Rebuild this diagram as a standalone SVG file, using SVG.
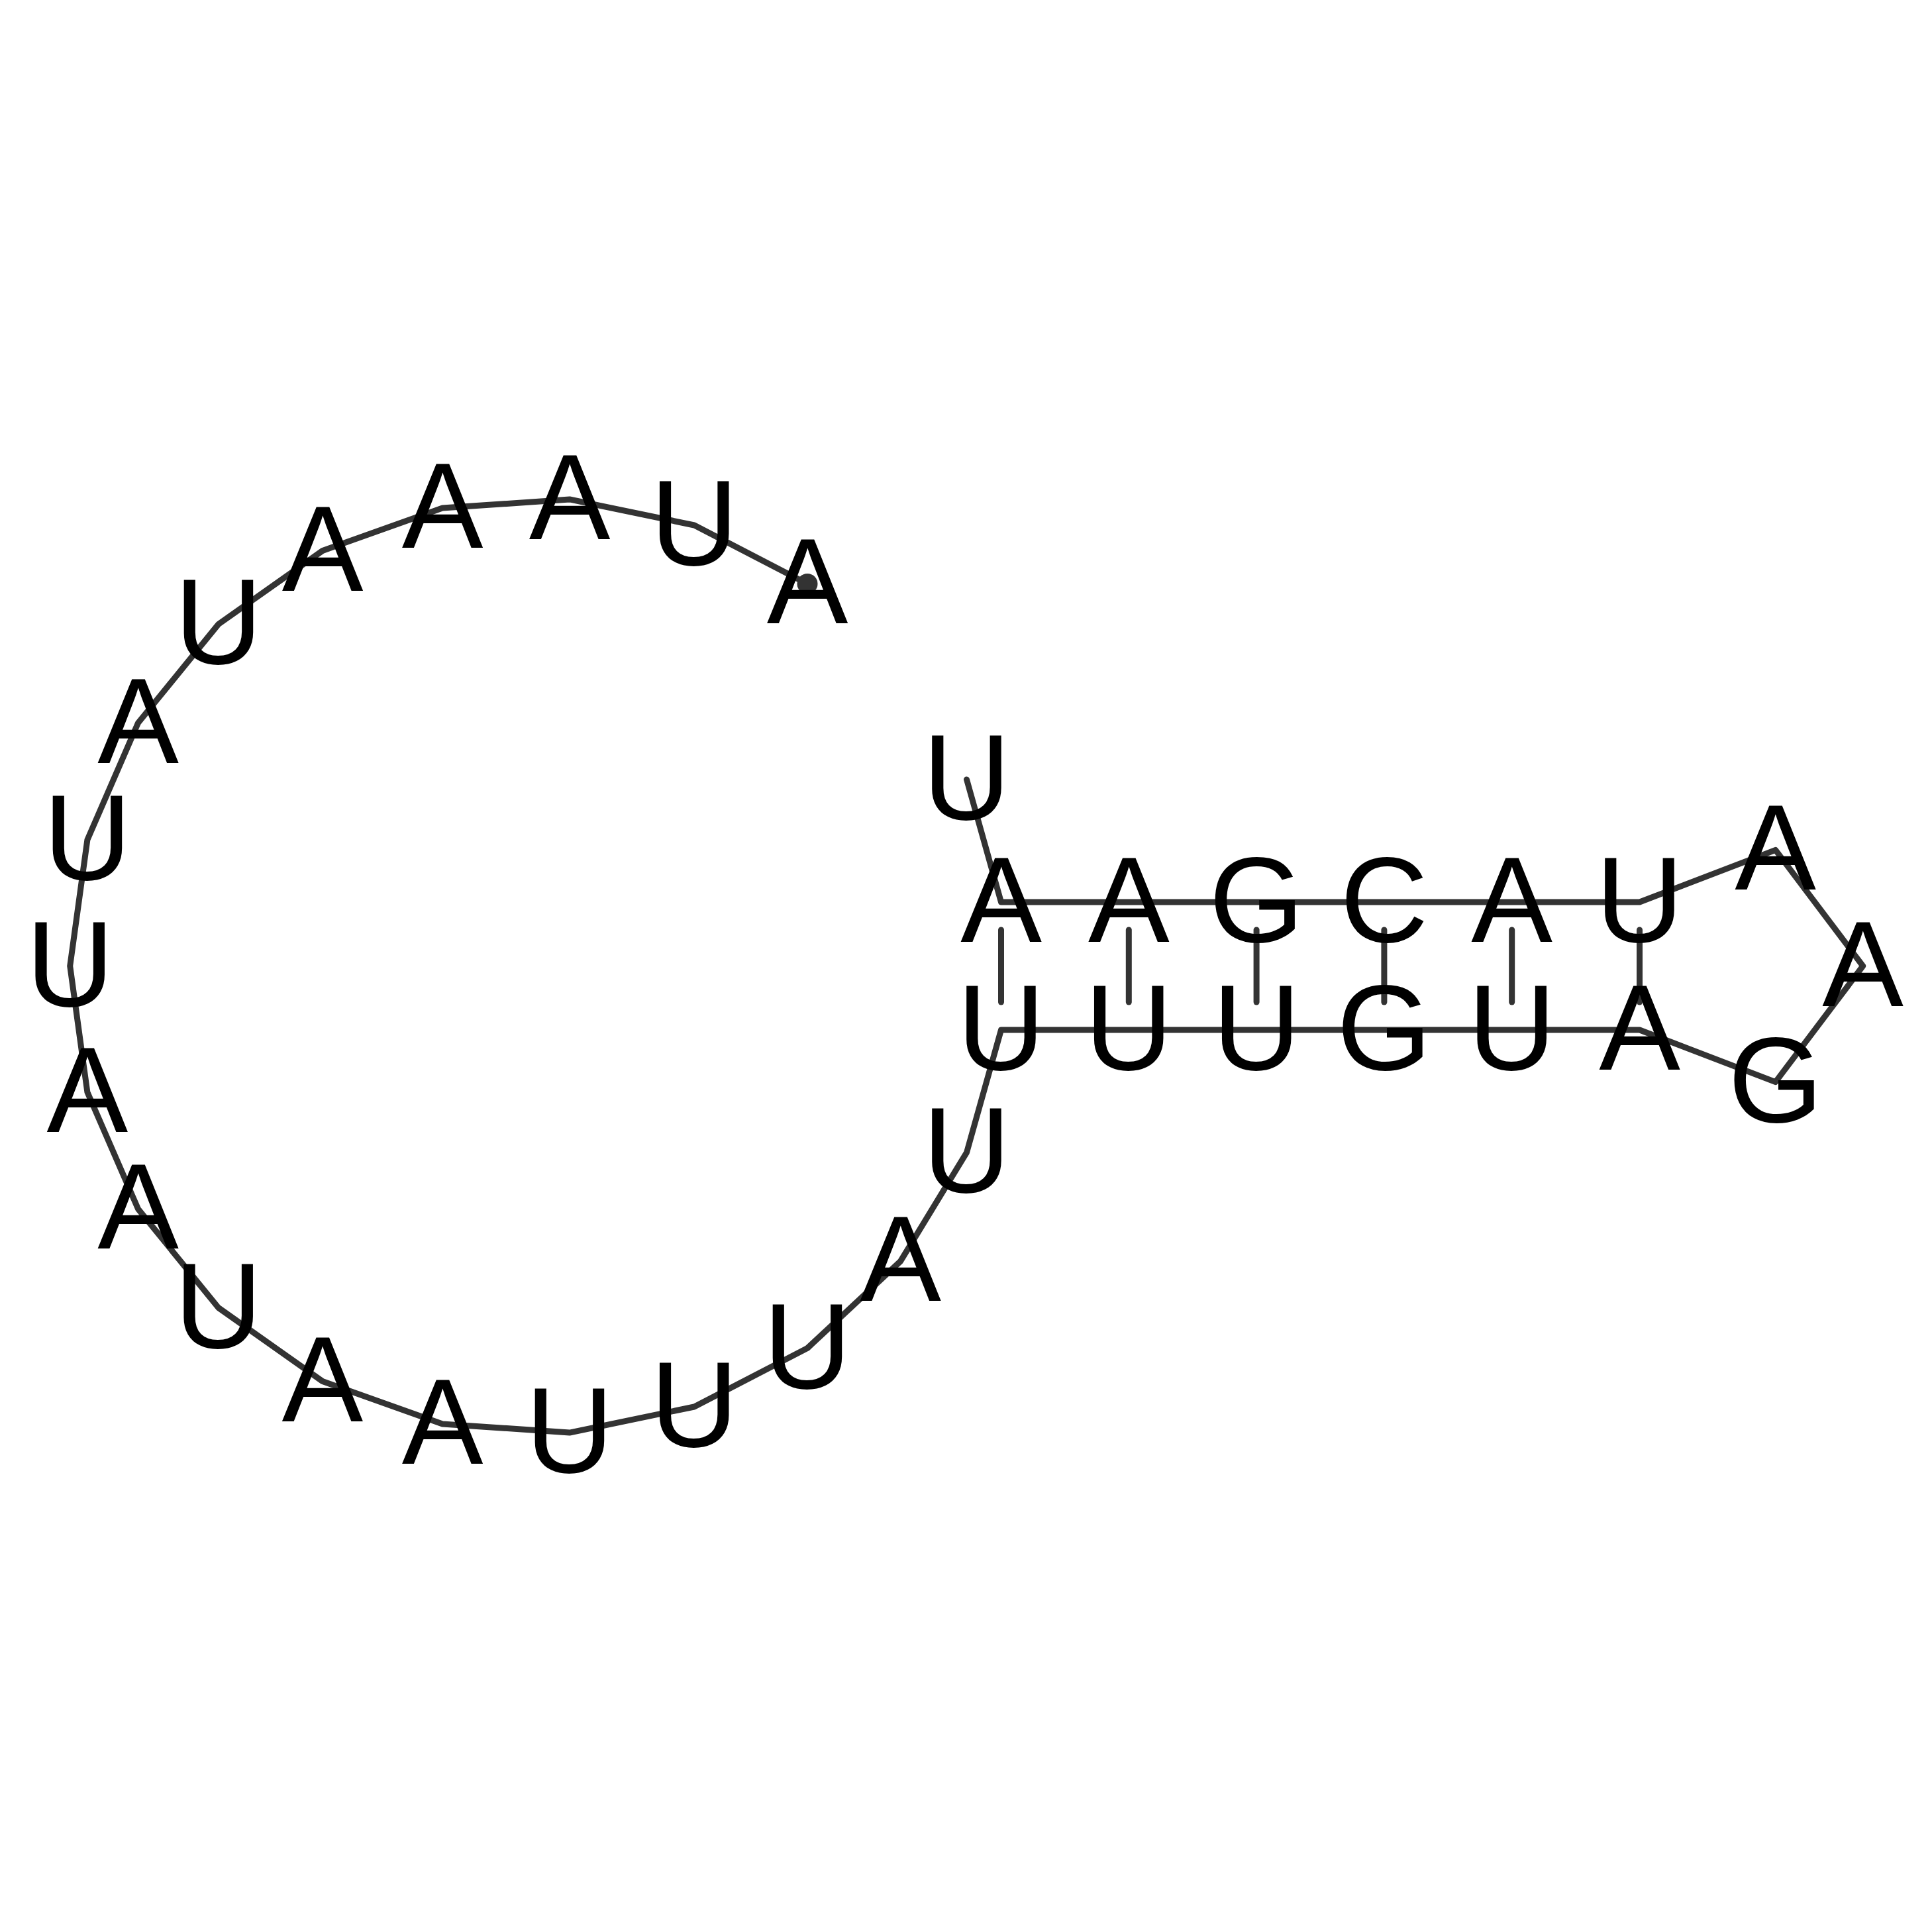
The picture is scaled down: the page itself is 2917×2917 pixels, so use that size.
<svg xmlns="http://www.w3.org/2000/svg" width="2917" height="2917" viewBox="0 0 2917 2917">
<style>
.bb{fill:none;stroke:#333333;stroke-width:9;stroke-linecap:round;stroke-linejoin:round}
.bp{stroke:#333333;stroke-width:9;stroke-linecap:round}
.nt{font-family:"Liberation Sans",Arial,Helvetica,sans-serif;font-size:184px;text-anchor:middle;fill:#000000}
</style>
<rect width="2917" height="2917" fill="#ffffff"/>
<g id="connectors">
<polyline class="bb" points="1459.5,1176.9 1511.5,1362 1704.3,1362 1897.1,1362 2089.9,1362 2282.7,1362 2475.5,1362 2680.7,1283.4 2812.7,1458.5 2680.7,1633.6 2475.5,1555 2282.7,1555 2089.9,1555 1897.1,1555 1704.3,1555 1511.5,1555 1459.5,1740.1 1359.5,1904.4 1218.9,2035.6 1048.2,2124.0 859.9,2163.1 668.1,2149.9 486.9,2085.5 329.8,1974.5 208.5,1825.3 131.9,1649.0 105.7,1458.5 131.9,1268.0 208.5,1091.5 329.9,942.4 487.0,831.5 668.1,767.1 860.0,753.9 1048.3,793.0 1219.0,881.4"/>
<circle cx="1219.0" cy="881.4" r="15.5" fill="#333333"/>
<line class="bp" x1="1511.5" y1="1404" x2="1511.5" y2="1513"/>
<line class="bp" x1="1704.3" y1="1404" x2="1704.3" y2="1513"/>
<line class="bp" x1="1897.1" y1="1404" x2="1897.1" y2="1513"/>
<line class="bp" x1="2089.9" y1="1404" x2="2089.9" y2="1513"/>
<line class="bp" x1="2282.7" y1="1404" x2="2282.7" y2="1513"/>
<line class="bp" x1="2475.5" y1="1404" x2="2475.5" y2="1513"/>
</g>
<g id="n1"><text class="nt" x="1459.5" y="1236.9">U</text></g>
<g id="n2"><text class="nt" x="1511.5" y="1422">A</text></g>
<g id="n3"><text class="nt" x="1704.3" y="1422">A</text></g>
<g id="n4"><text class="nt" x="1897.1" y="1422">G</text></g>
<g id="n5"><text class="nt" x="2089.9" y="1422">C</text></g>
<g id="n6"><text class="nt" x="2282.7" y="1422">A</text></g>
<g id="n7"><text class="nt" x="2475.5" y="1422">U</text></g>
<g id="n8"><text class="nt" x="2680.7" y="1343.4">A</text></g>
<g id="n9"><text class="nt" x="2812.7" y="1518.5">A</text></g>
<g id="n10"><text class="nt" x="2680.7" y="1693.6">G</text></g>
<g id="n11"><text class="nt" x="2475.5" y="1615">A</text></g>
<g id="n12"><text class="nt" x="2282.7" y="1615">U</text></g>
<g id="n13"><text class="nt" x="2089.9" y="1615">G</text></g>
<g id="n14"><text class="nt" x="1897.1" y="1615">U</text></g>
<g id="n15"><text class="nt" x="1704.3" y="1615">U</text></g>
<g id="n16"><text class="nt" x="1511.5" y="1615">U</text></g>
<g id="n17"><text class="nt" x="1459.5" y="1800.1">U</text></g>
<g id="n18"><text class="nt" x="1359.5" y="1964.4">A</text></g>
<g id="n19"><text class="nt" x="1218.9" y="2095.6">U</text></g>
<g id="n20"><text class="nt" x="1048.2" y="2184.0">U</text></g>
<g id="n21"><text class="nt" x="859.9" y="2223.1">U</text></g>
<g id="n22"><text class="nt" x="668.1" y="2209.9">A</text></g>
<g id="n23"><text class="nt" x="486.9" y="2145.5">A</text></g>
<g id="n24"><text class="nt" x="329.8" y="2034.5">U</text></g>
<g id="n25"><text class="nt" x="208.5" y="1885.3">A</text></g>
<g id="n26"><text class="nt" x="131.9" y="1709.0">A</text></g>
<g id="n27"><text class="nt" x="105.7" y="1518.5">U</text></g>
<g id="n28"><text class="nt" x="131.9" y="1328.0">U</text></g>
<g id="n29"><text class="nt" x="208.5" y="1151.5">A</text></g>
<g id="n30"><text class="nt" x="329.9" y="1002.4">U</text></g>
<g id="n31"><text class="nt" x="487.0" y="891.5">A</text></g>
<g id="n32"><text class="nt" x="668.1" y="827.1">A</text></g>
<g id="n33"><text class="nt" x="860.0" y="813.9">A</text></g>
<g id="n34"><text class="nt" x="1048.3" y="853.0">U</text></g>
<g id="n35"><text class="nt" x="1219.0" y="941.4">A</text></g>
</svg>
